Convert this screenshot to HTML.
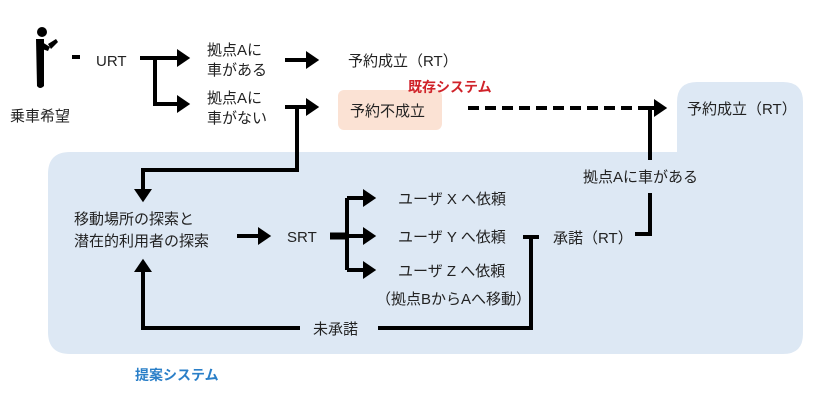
<!DOCTYPE html>
<html><head><meta charset="utf-8"><style>
html,body{margin:0;padding:0;background:#fff;}
svg{display:block;}
text{font-family:"Liberation Sans","Noto Sans CJK JP",sans-serif;font-size:15px;fill:#222;}
</style></head><body>
<svg width="826" height="400" viewBox="0 0 826 400" xmlns="http://www.w3.org/2000/svg">
<defs>
<marker id="ah" markerWidth="5" markerHeight="5" refX="1" refY="2.25" orient="auto" markerUnits="strokeWidth">
<path d="M0,0 L3.3,2.25 L0,4.5 Z" fill="#000"/></marker>
</defs>
<path d="M70,152 L677,152 L677,102 Q677,82 697,82 L783,82 Q803,82 803,102 L803,334 Q803,354 783,354 L70,354 Q48,354 48,332 L48,174 Q48,152 70,152 Z" fill="#dde8f4"/>
<rect x="338" y="90" width="104" height="40" rx="6" fill="#fbe2d4"/>

<circle cx="42" cy="32" r="5" fill="#000"/>
<path d="M36,39 L44,39 L44,86 Q40,90 37,86 Z" fill="#000"/>
<path d="M42,42 L50,47 L48,51 L42,49 Z" fill="#000"/>
<path d="M48,44 L56,39 L58,42 L51,49 Z" fill="#000"/>
<rect x="72" y="55" width="8" height="4" fill="#000"/>

<g stroke="#000" stroke-width="4" fill="none">
<path d="M140,58 L155,58 L155,104 L181,104" marker-end="url(#ah)"/>
<path d="M155,58 L181,58" marker-end="url(#ah)"/>
<path d="M285,60 L310,60" marker-end="url(#ah)"/>
<path d="M285,107 L310,107" marker-end="url(#ah)"/>
<path d="M297,107 L297,170 L143,170 L143,193" marker-end="url(#ah)"/>
<path d="M468,108 L640,108" stroke-dasharray="11,6"/>
<path d="M640,108 L658,108" marker-end="url(#ah)"/>
<path d="M650,108 L650,160"/>
<path d="M650,193 L650,234 L635,234"/>
<path d="M237,236 L262,236" marker-end="url(#ah)"/>
<path d="M347,198 L347,270"/>
<path d="M330,236 L347,236" stroke-width="7"/>
<path d="M347,198 L367,198" marker-end="url(#ah)"/>
<path d="M347,236 L367,236" marker-end="url(#ah)"/>
<path d="M347,270 L367,270" marker-end="url(#ah)"/>
<path d="M523,237 L539,237"/>
<path d="M531,237 L531,328 L378,328"/>
<path d="M300,328 L143,328 L143,268" marker-end="url(#ah)"/>
</g>

<text x="96" y="66">URT</text>
<text x="10" y="121">乗車希望</text>
<text x="207" y="55">拠点Aに</text>
<text x="207" y="75">車がある</text>
<text x="207" y="103">拠点Aに</text>
<text x="207" y="123">車がない</text>
<text x="348" y="66">予約成立（RT）</text>
<text x="408" y="92" style="fill:#d0232a;font-weight:bold;font-size:14px">既存システム</text>
<text x="350" y="116">予約不成立</text>
<text x="687" y="114">予約成立（RT）</text>
<text x="583" y="182">拠点Aに車がある</text>
<text x="74" y="224">移動場所の探索と</text>
<text x="74" y="246">潜在的利用者の探索</text>
<text x="287" y="242">SRT</text>
<text x="398" y="204">ユーザ X へ依頼</text>
<text x="398" y="242">ユーザ Y へ依頼</text>
<text x="398" y="276">ユーザ Z へ依頼</text>
<text x="376" y="304">（拠点BからAへ移動）</text>
<text x="553" y="243">承諾（RT）</text>
<text x="313" y="334">未承諾</text>
<text x="135" y="380" style="fill:#2a7fc8;font-weight:bold;font-size:14px">提案システム</text>
</svg>
</body></html>
